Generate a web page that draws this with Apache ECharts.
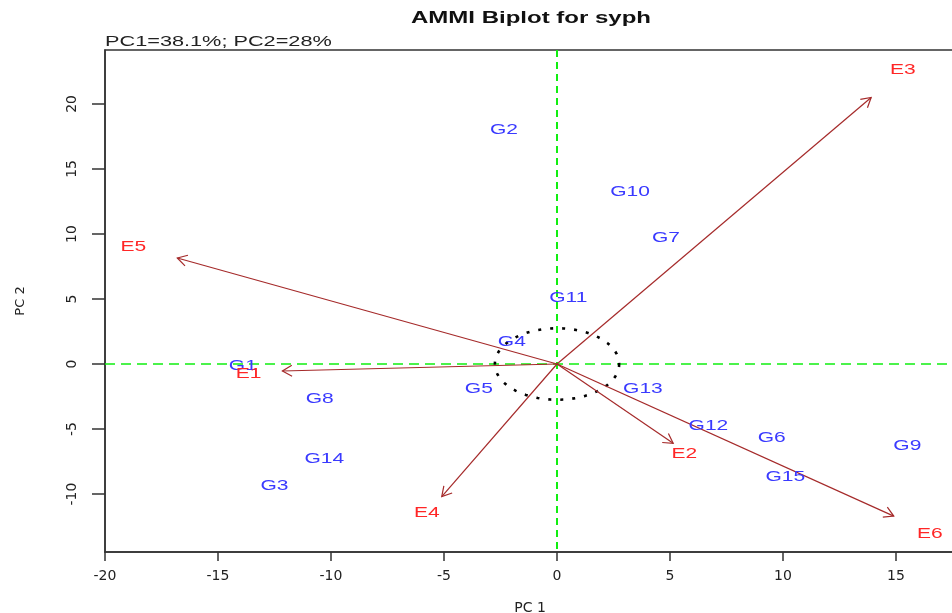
<!DOCTYPE html>
<html><head><meta charset="utf-8">
<script src="https://cdn.jsdelivr.net/npm/echarts@6/dist/echarts.min.js"></script>
<style>html,body{margin:0;padding:0;background:#fff}#c{width:952px;height:613px}</style>
</head><body><div id="c"></div>
<script>
// ---- data ----
const genotypes = ['G1','G2','G3','G4','G5','G6','G7','G8','G9','G10','G11','G12','G13','G14','G15'];
const genoPC1 = [-13.9, -2.35, -12.5, -2.0, -3.46, 9.5, 4.82, -10.5, 15.5, 3.23, 0.5, 6.7, 3.8, -10.3, 10.1];
const genoPC2 = [-0.15, 18.0, -9.4, 1.7, -1.9, -5.7, 9.7, -2.7, -6.3, 13.2, 5.1, -4.8, -1.95, -7.3, -8.7];
const environments = ['E1','E2','E3','E4','E5','E6'];
const envPC1 = [-13.65, 5.63, 15.3, -5.76, -18.75, 16.5];
const envPC2 = [-0.77, -6.9, 22.6, -11.5, 9.0, -13.1];
const arrowPC1 = [-12.15, 5.14, 13.9, -5.1, -16.8, 14.9];
const arrowPC2 = [-0.54, -6.1, 20.5, -10.2, 8.15, -11.7];
const xTicks = [-20, -15, -10, -5, 0, 5, 10, 15];
const yTicks = [-10, -5, 0, 5, 10, 15, 20];
const circleRadius = 2.75;
const titleText = 'AMMI Biplot for syph';
const subtitleText = 'PC1=38.1%; PC2=28%';

const chart = echarts.init(document.getElementById('c'));
const axisColor = '#333';
const labelFont = '14px "Liberation Sans", Arial, sans-serif';

function textItem(names, color) {
  return function (params, api) {
    const p = api.coord([api.value(0), api.value(1)]);
    return {
      type: 'text', x: p[0], y: p[1], scaleX: 1.5,
      style: { text: names[params.dataIndex], fill: color, font: labelFont, align: 'center', verticalAlign: 'middle' }
    };
  };
}

const option = {
  animation: false,
  grid: { left: 105, top: 50, right: -3, bottom: 61, show: true, borderColor: axisColor, borderWidth: 1.5,
          outerBoundsMode: 'none', containLabel: false },
  graphic: [
    { type: 'text', x: 531, y: 19, scaleX: 1.5,
      style: { text: titleText, font: 'bold 16px "Liberation Sans", Arial, sans-serif', fill: '#111', align: 'center', verticalAlign: 'middle' } },
    { type: 'text', x: 105, y: 42, scaleX: 1.55,
      style: { text: subtitleText, font: '14px "Liberation Sans", Arial, sans-serif', fill: '#222', align: 'left', verticalAlign: 'middle' } }
  ],
  xAxis: {
    type: 'value', min: -20, max: 17.61,
    name: 'PC 1', nameLocation: 'middle', nameGap: 49,
    nameTextStyle: { fontFamily: 'DejaVu Sans', fontSize: 14, color: '#222' },
    axisLine: { show: true, onZero: false, lineStyle: { color: axisColor, width: 1.5 } },
    axisTick: { show: true, length: 9, customValues: xTicks, lineStyle: { color: axisColor, width: 1.5 } },
    axisLabel: { customValues: xTicks, margin: 17, fontFamily: 'DejaVu Sans', fontSize: 14, color: '#222' },
    splitLine: { show: false }
  },
  yAxis: {
    type: 'value', min: -14.46, max: 24.15,
    name: 'PC 2', nameLocation: 'middle', nameGap: 78,
    nameTextStyle: { fontFamily: 'DejaVu Sans', fontSize: 13, color: '#222' },
    axisLine: { show: true, onZero: false, lineStyle: { color: axisColor, width: 1.5 } },
    axisTick: { show: true, length: 13, customValues: yTicks, lineStyle: { color: axisColor, width: 1.5 } },
    axisLabel: { customValues: yTicks, rotate: 90, margin: 26, fontFamily: 'DejaVu Sans', fontSize: 14, color: '#222' },
    splitLine: { show: false }
  },
  series: [
    { // zero reference lines
      type: 'custom', silent: true, data: [[0, 0]],
      renderItem: function (params, api) {
        const o = api.coord([api.value(0), api.value(1)]);
        const cs = params.coordSys;
        return { type: 'group', children: [
          { type: 'line', shape: { x1: o[0], y1: cs.y, x2: o[0], y2: cs.y + cs.height },
            style: { stroke: '#11ee11', lineWidth: 2, lineDash: [7, 5] } },
          { type: 'line', shape: { x1: cs.x, y1: o[1], x2: cs.x + cs.width, y2: o[1] },
            style: { stroke: '#11ee11', lineWidth: 1.6, lineDash: [10, 6] } }
        ] };
      }
    },
    { // dotted circle
      type: 'custom', silent: true, data: [[0, 0, circleRadius]],
      renderItem: function (params, api) {
        const c = api.coord([api.value(0), api.value(1)]);
        const s = api.size([api.value(2), api.value(2)]);
        const pts = [];
        for (let k = 0; k <= 90; k++) {
          const a = k / 90 * Math.PI * 2;
          pts.push([c[0] + s[0] * Math.cos(a), c[1] + s[1] * Math.sin(a)]);
        }
        return { type: 'polyline', shape: { points: pts }, style: { stroke: '#000', lineWidth: 2.6, lineDash: [3, 9], fill: null } };
      }
    },
    { // environment arrows
      type: 'custom', silent: true,
      data: arrowPC1.map((v, i) => [v, arrowPC2[i]]),
      renderItem: function (params, api) {
        const o = api.coord([0, 0]);
        const t = api.coord([api.value(0), api.value(1)]);
        const a = Math.atan2(t[1] - o[1], t[0] - o[0]);
        const L = 11, h = Math.PI / 6;
        const p1 = [t[0] - L * Math.cos(a - h), t[1] - L * Math.sin(a - h)];
        const p2 = [t[0] - L * Math.cos(a + h), t[1] - L * Math.sin(a + h)];
        const st = { stroke: '#a52a2a', lineWidth: 1.2, fill: null };
        return { type: 'group', children: [
          { type: 'line', shape: { x1: o[0], y1: o[1], x2: t[0], y2: t[1] }, style: st },
          { type: 'polyline', shape: { points: [p1, t, p2] }, style: st }
        ] };
      }
    },
    { // genotype labels
      type: 'custom', silent: true,
      data: genoPC1.map((v, i) => [v, genoPC2[i]]),
      renderItem: textItem(genotypes, '#3a3aff')
    },
    { // environment labels
      type: 'custom', silent: true,
      data: envPC1.map((v, i) => [v, envPC2[i]]),
      renderItem: textItem(environments, '#ff2626')
    }
  ]
};
chart.setOption(option);
</script>
</body></html>
